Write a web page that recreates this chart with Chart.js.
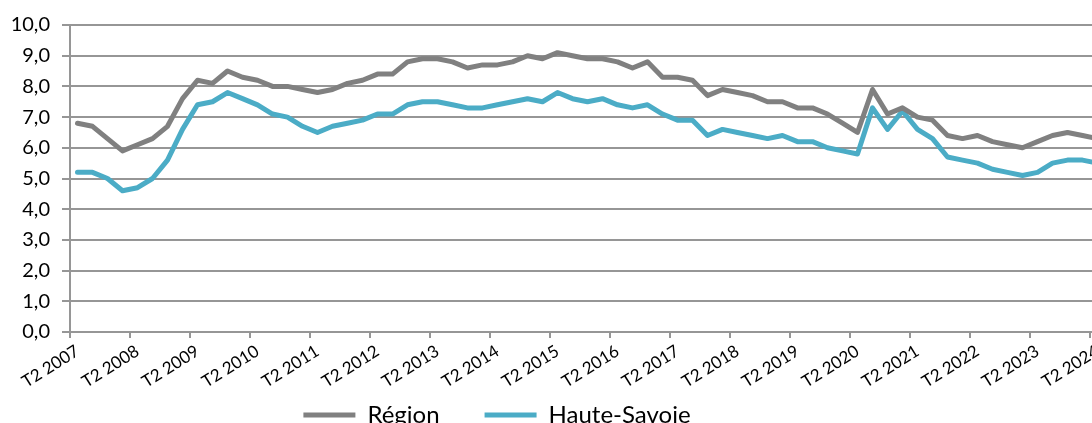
<!DOCTYPE html>
<html>
<head>
<meta charset="utf-8">
<script src="https://cdn.jsdelivr.net/npm/chart.js@4.4.1/dist/chart.umd.min.js"></script>
<style>
body{margin:0;overflow:hidden;background:#fff}
#wrap{position:relative;width:1092px;height:423px;overflow:hidden}
#c{position:absolute;left:-111px;top:0}
</style>
</head>
<body>
<div id="wrap"><canvas id="c" width="1216" height="437"></canvas></div>
<script>
// quarterly labels, T2 2007 .. T2 2024
var quarters = [];
for (var i = 0; i < 69; i++) {
  quarters.push('T' + ((i + 1) % 4 + 1) + ' ' + (2007 + Math.floor((i + 1) / 4)));
}

var region = [6.8,6.7,6.3,5.9,6.1,6.3,6.7,7.6,8.2,8.1,8.5,8.3,8.2,8.0,8.0,7.9,7.8,7.9,8.1,8.2,
  8.4,8.4,8.8,8.9,8.9,8.8,8.6,8.7,8.7,8.8,9.0,8.9,9.1,9.0,8.9,8.9,8.8,8.6,8.8,8.3,
  8.3,8.2,7.7,7.9,7.8,7.7,7.5,7.5,7.3,7.3,7.1,6.8,6.5,7.9,7.1,7.3,7.0,6.9,6.4,6.3,
  6.4,6.2,6.1,6.0,6.2,6.4,6.5,6.4,6.3];

var hauteSavoie = [5.2,5.2,5.0,4.6,4.7,5.0,5.6,6.6,7.4,7.5,7.8,7.6,7.4,7.1,7.0,6.7,6.5,6.7,6.8,6.9,
  7.1,7.1,7.4,7.5,7.5,7.4,7.3,7.3,7.4,7.5,7.6,7.5,7.8,7.6,7.5,7.6,7.4,7.3,7.4,7.1,
  6.9,6.9,6.4,6.6,6.5,6.4,6.3,6.4,6.2,6.2,6.0,5.9,5.8,7.3,6.6,7.2,6.6,6.3,5.7,5.6,
  5.5,5.3,5.2,5.1,5.2,5.5,5.6,5.6,5.5];

var yTicks = [0,1,2,3,4,5,6,7,8,9,10];

var FONT = 'Lato, "Open Sans", sans-serif';
var GRID = '#969696';

new Chart(document.getElementById('c'), {
  type: 'line',
  data: {
    labels: quarters,
    datasets: [
      {label: 'Région', data: region, borderColor: '#808080', backgroundColor: '#808080',
       borderWidth: 5, pointRadius: 0, borderCapStyle: 'round', borderJoinStyle: 'round'},
      {label: 'Haute-Savoie', data: hauteSavoie, borderColor: '#4BACC6', backgroundColor: '#4BACC6',
       borderWidth: 5, pointRadius: 0, borderCapStyle: 'round', borderJoinStyle: 'round'}
    ]
  },
  options: {
    responsive: false,
    animation: false,
    devicePixelRatio: 1,
    layout: {padding: {left: 0, right: 0, top: 25, bottom: 0}},
    plugins: {
      tooltip: {enabled: false},
      legend: {
        position: 'bottom',
        labels: {
          usePointStyle: true, pointStyle: 'line', pointStyleWidth: 52,
          padding: 45, color: '#000', font: {family: FONT, size: 24}
        }
      }
    },
    scales: {
      x: {
        offset: true,
        afterFit: function(s){
          s.height = 26;
          s.paddingLeft = 0;
          s.paddingRight = 0;
          // labels overflow into the legend band, so no clipping to the axis box
          s._computeLabelArea = function(){};
        },
        grid: {
          offset: true, drawOnChartArea: false, tickLength: 6, lineWidth: 2,
          color: function(ctx){ return ctx.index % 4 === 0 ? GRID : 'rgba(0,0,0,0)'; }
        },
        border: {color: GRID, width: 2},
        ticks: {
          autoSkip: false, minRotation: 32, maxRotation: 32, padding: 3,
          color: '#000', font: {family: FONT, size: 17},
          callback: function(v, i){ return i % 4 === 0 ? quarters[i] : ''; }
        }
      },
      y: {
        min: 0, max: 10,
        afterFit: function(s){ s.width = 181; },
        afterBuildTicks: function(s){ s.ticks = yTicks.map(function(v){ return {value: v}; }); },
        grid: {color: GRID, lineWidth: 2, tickLength: 8},
        border: {color: GRID, width: 2},
        ticks: {
          padding: 12, color: '#000', font: {family: FONT, size: 20},
          callback: function(v){ return v.toFixed(1).replace('.', ','); }
        }
      }
    }
  }
});
</script>
</body>
</html>
